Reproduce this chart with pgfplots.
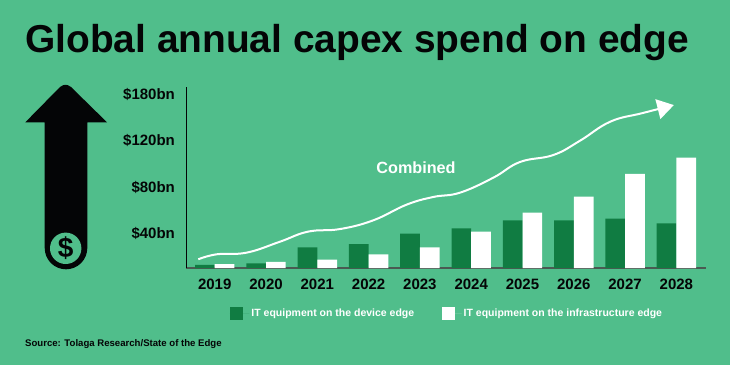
\documentclass[border=0pt]{standalone}
\usepackage{pgfplots}
\pgfplotsset{compat=1.18}
\usepackage{fontspec}
\usetikzlibrary{arrows.meta}
\setmainfont{Liberation Sans}
\definecolor{bg}{HTML}{50BE8B}
\definecolor{dk}{HTML}{107C42}
\definecolor{ink}{HTML}{040506}
\definecolor{axg}{HTML}{4A5A52}
\begin{document}
\begin{tikzpicture}[x=1pt,y=1pt]
\fill[bg] (0,0) rectangle (730,365);
\node[anchor=west,inner sep=0,text=ink] at (25,322) {\fontsize{38.9}{42}\selectfont\bfseries Global annual capex spend on edge};
% icon
\fill[ink] (44.7,242.7) -- (44.7,117) arc[start angle=180,end angle=360,radius=21.3] -- (87.3,242.7) -- (107,242.7) -- (71,278) .. controls (67,281) and (64,281) .. (60,278) -- (25.3,242.7) -- cycle;
\fill[bg] (65.7,116.7) circle (15.7);
\node[text=ink,inner sep=0] at (65.7,116.7) {\fontsize{28}{28}\selectfont\bfseries\$};
\begin{axis}[
  at={(186.4pt,97pt)},anchor=south west,
  scale only axis,width=519.2pt,height=181.3pt,
  xmin=2018.448,xmax=2028.569,ymin=10.3,ymax=166.3,
  axis x line=bottom,axis y line=left,
  x axis line style={-,draw=axg,line width=1.3pt},
  y axis line style={-,draw=ink,line width=0.9pt},
  xtick={2019,...,2028},
  xticklabels={2019,2020,2021,2022,2023,2024,2025,2026,2027,2028},
  ytick={40,80,120,160},
  yticklabels={\$40bn,\$80bn,\$120bn,\$180bn},
  major tick length=0pt,
  tick label style={font=\fontsize{15}{15}\selectfont\bfseries,text=ink},
  yticklabel style={xshift=-8pt},
  xticklabel style={yshift=-7.5pt},
  legend columns=2,
  legend style={at={(rel axis cs:0.0835,-0.213)},anchor=north west,draw=none,fill=none,
    font=\fontsize{10.5}{11}\selectfont\bfseries,text=white,inner sep=0pt,
    /tikz/every even column/.style={column sep=26pt}},
  legend cell align=left,
  legend image code/.code={\path (0pt,0pt) -- (19.5pt,0pt);\fill[#1] (0pt,-6.5pt) rectangle (13pt,6.5pt);},
]
\addplot[ybar,bar width=19.7pt,bar shift=-9.85pt,fill=dk,draw=none] coordinates {
(2019,12.9)(2020,14.3)(2021,28.1)(2022,30.9)(2023,39.8)(2024,44.4)(2025,51.3)(2026,51.3)(2027,52.7)(2028,48.7)};
\addlegendentry{IT equipment on the device edge}
\addplot[ybar,bar width=19.7pt,bar shift=9.85pt,fill=white,draw=none] coordinates {
(2019,13.7)(2020,15.5)(2021,17.5)(2022,22.1)(2023,28.1)(2024,41.6)(2025,57.9)(2026,71.7)(2027,91.2)(2028,105.2)};
\addlegendentry{IT equipment on the infrastructure edge}
\addplot[smooth,white,line width=2pt,tension=0.7,forget plot,
  -{Triangle[length=16.5pt,width=20pt,fill=white]}] coordinates {
(2018.68,17.8)(2019.04,22.1)(2019.62,23.5)(2020.27,32.9)(2020.82,41.6)(2021.44,43.8)(2022.09,51.3)(2022.74,64.8)(2023.26,71.4)(2023.78,75.1)(2024.43,88.0)(2024.95,101.5)(2025.6,107.5)(2026.12,119.8)(2026.71,136.2)(2027.34,143.6)(2027.95,150.5)};
\end{axis}
\node[text=white,inner sep=0] at (416,197) {\fontsize{16.2}{17}\selectfont\bfseries Combined};
\node[anchor=west,inner sep=0,text=ink] at (25,21) {\fontsize{9.6}{10}\selectfont\bfseries Source: Tolaga Research/State of the Edge};
\end{tikzpicture}
\end{document}
